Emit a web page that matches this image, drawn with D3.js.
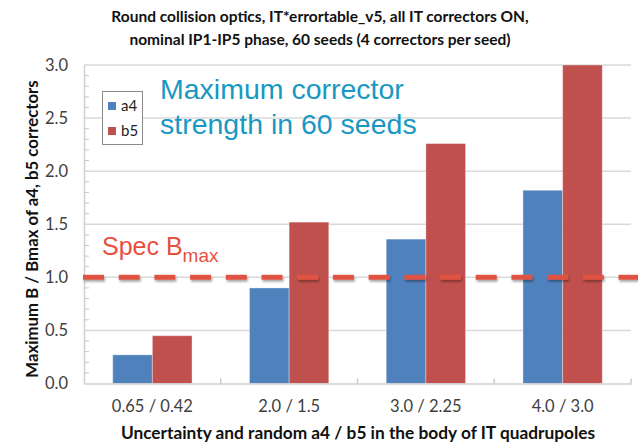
<!DOCTYPE html>
<html><head><meta charset="utf-8">
<script src="https://cdn.jsdelivr.net/npm/d3@7"></script>
<style>body{margin:0;background:#fff}svg{display:block}</style>
</head><body><svg id="c" width="638" height="446"></svg>
<script>
const categories = ["0.65 / 0.42", "2.0 / 1.5", "3.0 / 2.25", "4.0 / 3.0"];
const seriesNames = ["a4", "b5"];
const a4Values = [0.27, 0.90, 1.36, 1.82];
const b5Values = [0.45, 1.52, 2.26, 3.00];
const yTicks = [0, 0.5, 1.0, 1.5, 2.0, 2.5, 3.0];
const specValue = 1.0;
const titleLines = ["Round collision optics, IT*errortable_v5, all IT correctors ON,", "nominal IP1-IP5 phase, 60 seeds (4 correctors per seed)"];
const xTitle = "Uncertainty and random a4 / b5 in the body of IT quadrupoles";
const yTitle = "Maximum B / Bmax of a4, b5 correctors";
const noteLines = ["Maximum corrector", "strength in 60 seeds"];

const colors = {a4: "#4f81bd", b5: "#c0504d"};
const svg = d3.select("#c");
const L = 84, R = 631, T = 65, B = 383.5;

const x0 = d3.scaleBand().domain(categories).range([L, R]).paddingInner(0.42).paddingOuter(0.21);
const x1 = d3.scaleBand().domain(seriesNames).range([0, x0.bandwidth()]);
const y = d3.scaleLinear().domain([0, 3]).range([B, T]);
const xCat = d3.scaleBand().domain(categories).range([L, R]);

// defs shadow
const defs = svg.append("defs");
const f = defs.append("filter").attr("id","sh").attr("filterUnits","userSpaceOnUse")
  .attr("x",70).attr("y",y(specValue)-12).attr("width",580).attr("height",24);
f.append("feDropShadow").attr("dx",1).attr("dy",2).attr("stdDeviation",1.2).attr("flood-color","#000").attr("flood-opacity",0.35);

// gridlines
svg.append("g").selectAll("line").data(yTicks.filter(d=>d>0)).join("line")
  .attr("x1", L).attr("x2", R).attr("y1", d=>y(d)).attr("y2", d=>y(d))
  .attr("stroke", "#d9d9d9").attr("stroke-width", 1.5);

// y axis
const yAxis = d3.axisLeft(y).tickValues(yTicks).tickFormat(d3.format(".1f")).tickSize(0).tickPadding(16);
const gy = svg.append("g").attr("transform", `translate(${L},0)`).call(yAxis);
gy.select(".domain").attr("stroke", "#d0d0d0").attr("stroke-width", 1.5);
gy.selectAll("text").attr("font-family", "Lato, 'Open Sans', sans-serif").attr("font-size", 16.5).attr("fill", "#404040");
// minor ticks (inside)
const minor = d3.range(0, 30).map(i => i/10).filter(v => Math.abs(v*2 - Math.round(v*2)) > 1e-6);
svg.append("g").selectAll("line").data(minor).join("line")
  .attr("x1", L).attr("x2", L + 5).attr("y1", d=>y(d)).attr("y2", d=>y(d))
  .attr("stroke", "#c8c8c8").attr("stroke-width", 1);

// bars
const gBars = svg.append("g").selectAll("g").data(categories).join("g")
  .attr("transform", d => `translate(${x0(d)},0)`);
gBars.selectAll("rect").data((d,i) => [{k:"a4", v:a4Values[i]}, {k:"b5", v:b5Values[i]}]).join("rect")
  .attr("x", d => x1(d.k)).attr("width", x1.bandwidth())
  .attr("y", d => y(d.v)).attr("height", d => y(0) - y(d.v))
  .attr("fill", d => colors[d.k]).attr("stroke", "rgba(255,255,255,0.35)").attr("stroke-width", 1);

// x axis
const xAxis = d3.axisBottom(xCat).tickSize(0).tickPadding(17);
const gx = svg.append("g").attr("transform", `translate(0,${B})`).call(xAxis);
gx.select(".domain").attr("stroke", "#d0d0d0").attr("stroke-width", 1.5);
gx.selectAll("text").attr("font-family", "Lato, 'Open Sans', sans-serif").attr("font-size", 16.5).attr("fill", "#404040");
// category boundary ticks (inside)
const bounds = categories.map(c => xCat(c)).concat([R]).slice(1);
svg.append("g").selectAll("line").data(bounds).join("line")
  .attr("x1", d=>d).attr("x2", d=>d).attr("y1", B).attr("y2", B - 5)
  .attr("stroke", "#c8c8c8").attr("stroke-width", 1.5);

// spec dashed line
svg.append("line").attr("x1", 83).attr("x2", 638).attr("y1", y(specValue)).attr("y2", y(specValue))
  .attr("stroke", "#e05343").attr("stroke-width", 5).attr("stroke-dasharray", "21 14.7")
  .attr("filter", "url(#sh)");

// spec label
const spec = svg.append("text").attr("x", 102).attr("y", 255)
  .attr("font-family", "'Liberation Sans', Arial, sans-serif").attr("fill", "#e8503f").attr("font-size", 25);
spec.append("tspan").text("Spec B");
spec.append("tspan").attr("font-size", 19).attr("dy", 7).text("max");

// note
svg.append("g").selectAll("text").data(noteLines).join("text")
  .attr("x", 160).attr("y", (d,i) => 99 + i*35)
  .attr("font-family", "'Liberation Sans', Arial, sans-serif").attr("font-size", 28.5).attr("fill", "#1898c2")
  .text(d => d);

// legend
const lg = svg.append("g");
lg.append("rect").attr("x", 102.5).attr("y", 91.5).attr("width", 40).attr("height", 53)
  .attr("fill", "#fff").attr("stroke", "#8c8c8c").attr("stroke-width", 1);
seriesNames.forEach((s, i) => {
  lg.append("rect").attr("x", 108).attr("y", 102 + i*25).attr("width", 8).attr("height", 8).attr("fill", colors[s]);
  lg.append("text").attr("x", 121).attr("y", 111 + i*25).attr("font-family", "Lato, 'Open Sans', sans-serif")
    .attr("font-size", 15).attr("fill", "#222").text(s);
});

// titles
svg.append("g").selectAll("text").data(titleLines).join("text")
  .attr("x", 320).attr("y", (d,i) => 22 + i*23).attr("text-anchor", "middle")
  .attr("font-family", "Lato, 'Open Sans', sans-serif").attr("font-weight", "bold").attr("font-size", 15.5).attr("fill", "#111")
  .text(d => d);

svg.append("text").attr("x", 358).attr("y", 439).attr("text-anchor", "middle")
  .attr("font-family", "Lato, 'Open Sans', sans-serif").attr("font-weight", "bold").attr("font-size", 17.3).attr("fill", "#111")
  .text(xTitle);

svg.append("text").attr("transform", "translate(38,229) rotate(-90)").attr("text-anchor", "middle")
  .attr("font-family", "Lato, 'Open Sans', sans-serif").attr("font-weight", "bold").attr("font-size", 16.8).attr("fill", "#111")
  .text(yTitle);
</script></body></html>
